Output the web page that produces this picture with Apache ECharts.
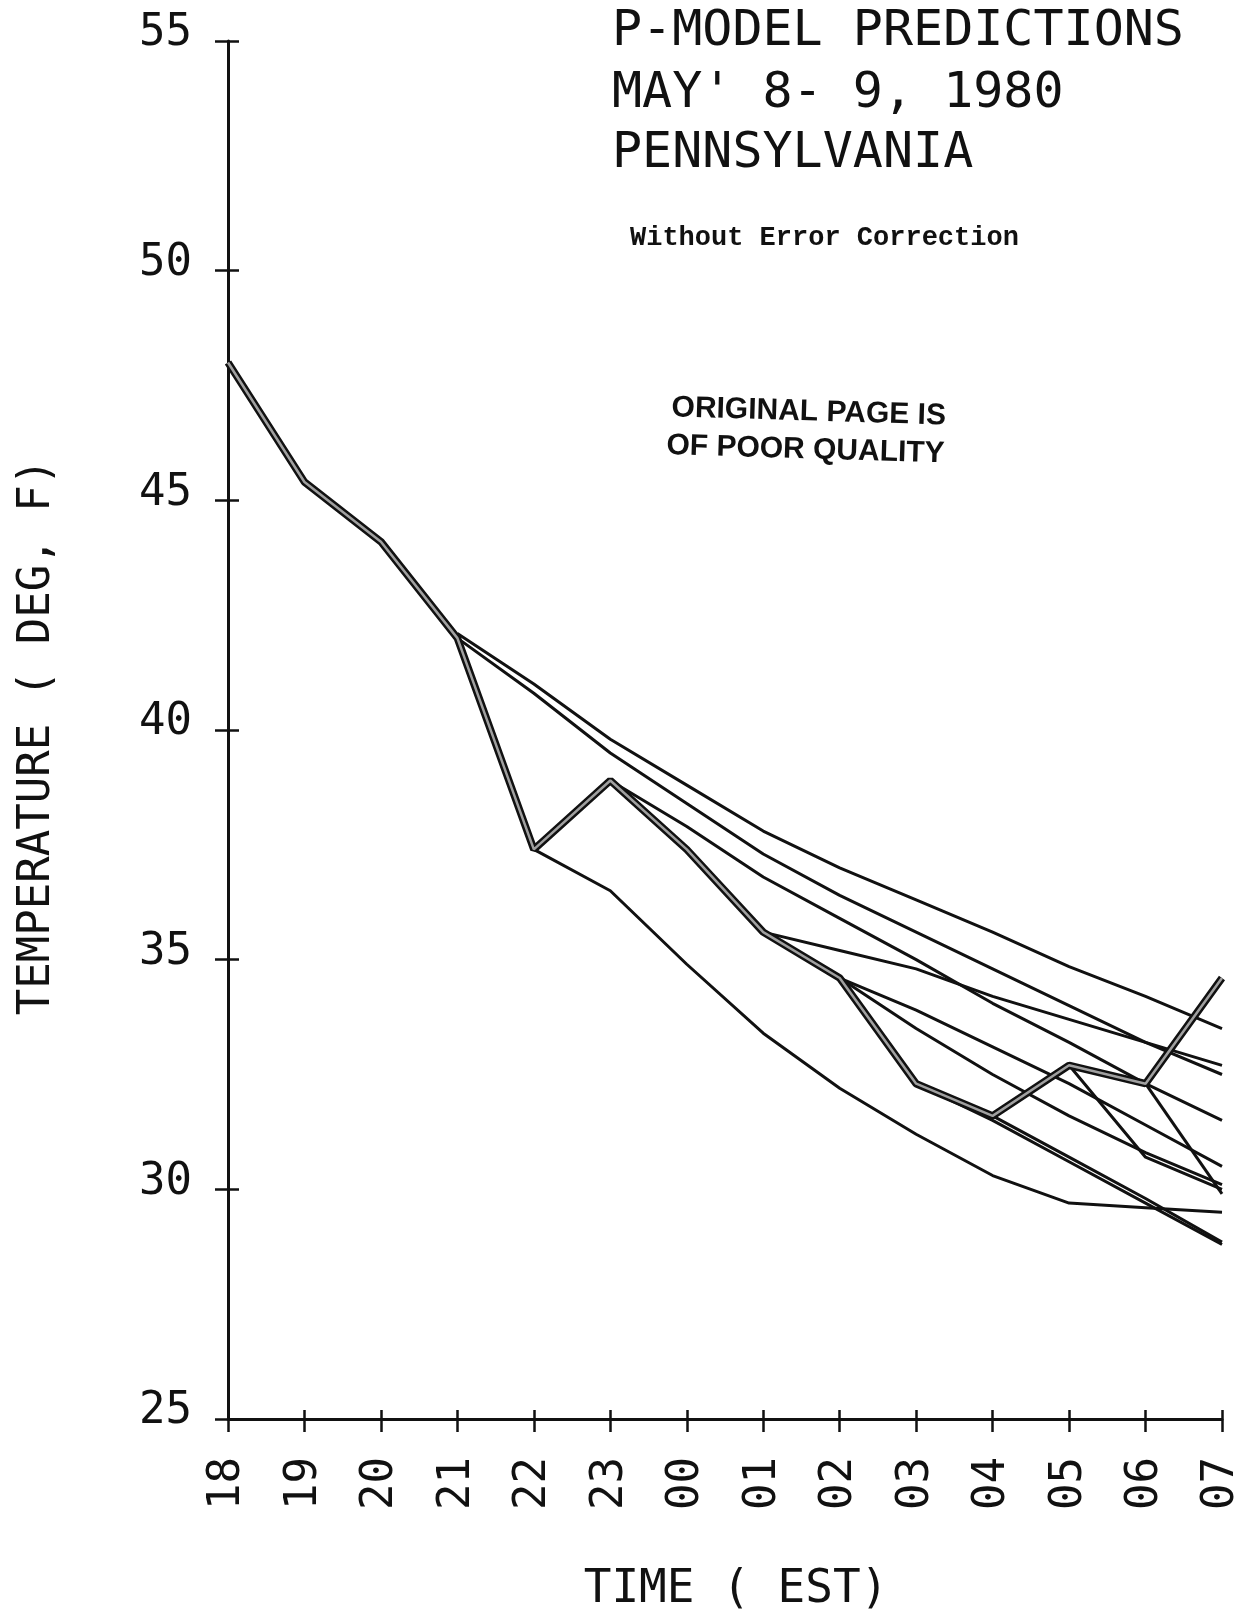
<!DOCTYPE html>
<html>
<head>
<meta charset="utf-8">
<script src="https://cdn.jsdelivr.net/npm/echarts@6/dist/echarts.min.js"></script>
<style>
html,body{margin:0;padding:0;background:#fff;}
#chart{width:1244px;height:1618px;}
</style>
</head>
<body>
<div id="chart"></div>
<script>
// ---- data ----
var hours = ['18','19','20','21','22','23','00','01','02','03','04','05','06','07'];
var yTicks = [25, 30, 35, 40, 45, 50, 55];
var observed = [48.0, 45.4, 44.1, 42.0, 37.4, 38.9, 37.4, 35.6, 34.6, 32.3, 31.6, 32.7, 32.3, 34.6];
var pred21a = [null, null, null, 42.1, 41.0, 39.8, 38.8, 37.8, 37.0, 36.3, 35.6, 34.85, 34.2, 33.5];
var pred21b = [null, null, null, 42.0, 40.8, 39.5, 38.4, 37.3, 36.4, 35.6, 34.8, 34.0, 33.2, 32.5];
var pred22  = [null, null, null, null, 37.4, 36.5, 34.9, 33.4, 32.2, 31.2, 30.3, 29.7, 29.6, 29.5];
var pred23  = [null, null, null, null, null, 38.9, 37.9, 36.8, 35.9, 35.0, 34.05, 33.2, 32.3, 31.5];
var pred01  = [null, null, null, null, null, null, null, 35.6, 35.2, 34.8, 34.2, 33.7, 33.2, 32.7];
var pred02a = [null, null, null, null, null, null, null, null, 34.6, 33.9, 33.1, 32.3, 31.4, 30.5];
var pred02b = [null, null, null, null, null, null, null, null, 34.6, 33.5, 32.5, 31.6, 30.8, 30.1];
var pred03  = [null, null, null, null, null, null, null, null, null, 32.3, 31.5, 30.6, 29.7, 28.8];
var pred04  = [null, null, null, null, null, null, null, null, null, null, 31.6, 30.7, 29.8, 28.85];
var pred05  = [null, null, null, null, null, null, null, null, null, null, null, 32.7, 30.7, 30.0];
var pred06  = [null, null, null, null, null, null, null, null, null, null, null, null, 32.3, 29.9];

var predictions = [pred21a, pred21b, pred22, pred23, pred01, pred02a, pred02b, pred03, pred04, pred05, pred06];

var INK = '#111';
var MONO = '"DejaVu Sans Mono", "Liberation Mono", monospace';

var chart = echarts.init(document.getElementById('chart'), null, {renderer: 'canvas'});

function thinSeries(d) {
  return {
    type: 'line', data: d, xAxisIndex: 0, yAxisIndex: 0,
    symbol: 'none', connectNulls: false, silent: true,
    lineStyle: {color: INK, width: 3}, z: 3
  };
}

var series = predictions.map(thinSeries);
// observed: heavy "hollow" double stroke
series.push({
  type: 'line', data: observed, symbol: 'none', silent: true,
  lineStyle: {color: INK, width: 7.5}, z: 4
});
series.push({
  type: 'line', data: observed, symbol: 'none', silent: true,
  lineStyle: {color: '#a0a0a0', width: 2.5}, z: 5
});

var option = {
  animation: false,
  backgroundColor: '#fff',
  grid: {left: 228, right: 10, top: 41, bottom: 199, containLabel: false},
  xAxis: [{
    type: 'category', data: hours, boundaryGap: false, position: 'bottom',
    axisLine: {show: true, lineStyle: {color: INK, width: 3}},
    axisTick: {show: true, alignWithLabel: true, length: 13, lineStyle: {color: INK, width: 2.5}},
    axisLabel: {show: true, rotate: 90, margin: 38, color: INK, fontFamily: MONO, fontSize: 44, interval: 0},
    splitLine: {show: false}
  }, {
    type: 'category', data: hours, boundaryGap: false, position: 'bottom',
    axisLine: {show: false},
    axisTick: {show: true, inside: true, length: 9, lineStyle: {color: INK, width: 2.5}},
    axisLabel: {show: false}, splitLine: {show: false}
  }],
  yAxis: [{
    type: 'value', min: yTicks[0], max: yTicks[yTicks.length - 1], interval: 5, position: 'left',
    axisLine: {show: true, lineStyle: {color: INK, width: 3}},
    axisTick: {show: true, length: 13, lineStyle: {color: INK, width: 2.5}},
    axisLabel: {show: true, margin: 36, color: INK, fontFamily: MONO, fontSize: 44, verticalAlign: 'bottom', lineHeight: 14},
    splitLine: {show: false}
  }, {
    type: 'value', min: yTicks[0], max: yTicks[yTicks.length - 1], interval: 5, position: 'left',
    axisLine: {show: false},
    axisTick: {show: true, inside: true, length: 11, lineStyle: {color: INK, width: 2.5}},
    axisLabel: {show: false}, splitLine: {show: false}
  }],
  series: series,
  graphic: [
    {type: 'text', x: 612, y: 57, style: {text: 'P-MODEL PREDICTIONS', font: '50px ' + MONO, fill: INK, textAlign: 'left', textVerticalAlign: 'bottom'}},
    {type: 'text', x: 612, y: 119, style: {text: "MAY' 8- 9, 1980", font: '50px ' + MONO, fill: INK, textAlign: 'left', textVerticalAlign: 'bottom'}},
    {type: 'text', x: 612, y: 179, style: {text: 'PENNSYLVANIA', font: '50px ' + MONO, fill: INK, textAlign: 'left', textVerticalAlign: 'bottom'}},
    {type: 'text', x: 630, y: 252, style: {text: 'Without Error Correction', font: 'bold 27px "Liberation Mono", monospace', fill: INK, textAlign: 'left', textVerticalAlign: 'bottom'}},
    {type: 'group', x: 672, y: 393, rotation: -0.03, children: [
      {type: 'text', x: 0, y: 0, style: {text: 'ORIGINAL PAGE IS', font: 'bold 30px "Liberation Sans", Arial, sans-serif', fill: INK, textAlign: 'left', textVerticalAlign: 'top'}},
      {type: 'text', x: -4, y: 38, style: {text: 'OF POOR QUALITY', font: 'bold 30px "Liberation Sans", Arial, sans-serif', fill: INK, textAlign: 'left', textVerticalAlign: 'top'}}
    ]},
    {type: 'text', x: 38, y: 737, rotation: Math.PI / 2, style: {text: 'TEMPERATURE ( DEG, F)', font: '44px ' + MONO, fill: INK, textAlign: 'center', textVerticalAlign: 'middle'}},
    {type: 'text', x: 736, y: 1590, style: {text: 'TIME ( EST)', font: '46px ' + MONO, fill: INK, textAlign: 'center', textVerticalAlign: 'middle'}}
  ]
};
chart.setOption(option);
</script>
</body>
</html>
